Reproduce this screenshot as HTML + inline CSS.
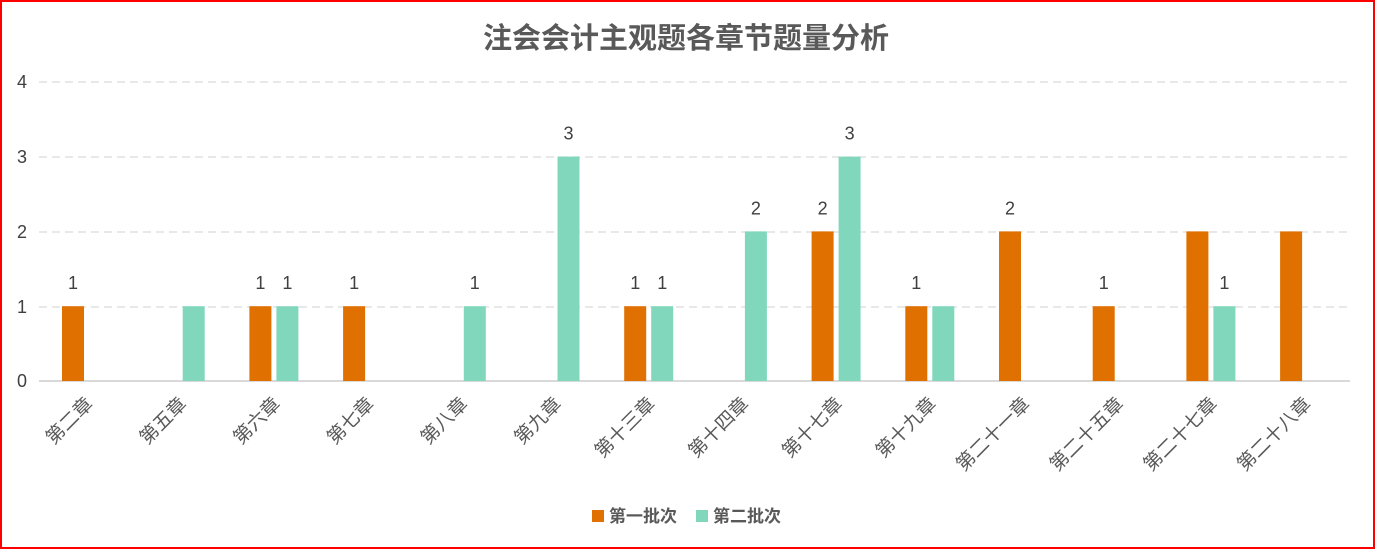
<!DOCTYPE html>
<html><head><meta charset="utf-8"><style>
html,body{margin:0;padding:0;background:#fff}
svg{display:block}
text{font-family:"Liberation Sans","Noto Sans CJK SC",sans-serif}
</style></head><body>
<svg width="1375" height="549" viewBox="0 0 1375 549" xmlns="http://www.w3.org/2000/svg">
<rect x="1" y="1" width="1373" height="547" fill="#fff" stroke="#ff0000" stroke-width="2"/>
<text x="686" y="48" text-anchor="middle" font-size="29" font-weight="bold" fill="#595959">注会会计主观题各章节题量分析</text>
<g stroke="#d9d9d9" stroke-width="1.3" stroke-dasharray="8,5">
<line x1="39" y1="82" x2="1350" y2="82"/>
<line x1="39" y1="157" x2="1350" y2="157"/>
<line x1="39" y1="232" x2="1350" y2="232"/>
<line x1="39" y1="307" x2="1350" y2="307"/>
</g>
<line x1="39" y1="381" x2="1350" y2="381" stroke="#d9d9d9" stroke-width="2"/>
<g font-size="18" fill="#404040" text-anchor="middle">
<text x="22" y="88">4</text><text x="22" y="163">3</text><text x="22" y="238">2</text><text x="22" y="313">1</text><text x="22" y="387">0</text>
</g>
<g id="bars"></g>
<g id="vals" font-size="18" fill="#404040" text-anchor="middle"></g>
<g id="cats" font-size="19" fill="#595959"></g>
<rect x="592" y="510" width="12" height="12" fill="#e07000"/>
<text x="609" y="522" font-size="17" font-weight="bold" fill="#595959">第一批次</text>
<rect x="696" y="510" width="12" height="12" fill="#80d7bc"/>
<text x="713" y="522" font-size="17" font-weight="bold" fill="#595959">第二批次</text>
</svg>
<script>
var ns="http://www.w3.org/2000/svg";
var d=[["第二章",1,0,1,0],["第五章",0,1,0,0],["第六章",1,1,1,1],["第七章",1,0,1,0],["第八章",0,1,0,1],["第九章",0,3,0,1],["第十三章",1,1,1,1],["第十四章",0,2,0,1],["第十七章",2,3,1,1],["第十九章",1,1,1,0],["第二十一章",2,0,1,0],["第二十五章",1,0,1,0],["第二十七章",2,1,0,1],["第二十八章",2,0,0,0]];
function el(t,a,p,txt){var e=document.createElementNS(ns,t);for(var k in a)e.setAttribute(k,a[k]);if(txt)e.textContent=txt;document.getElementById(p).appendChild(e);}
d.forEach(function(r,i){
 var c=86+i*93.7;
 if(r[1]){var h=r[1]*74.8;el("rect",{x:c-24,y:381-h,width:22,height:h,fill:"#e07000"},"bars");if(r[3])el("text",{x:c-13,y:381-h-17},"vals",r[1]);}
 if(r[2]){var h2=r[2]*74.8;el("rect",{x:c+3,y:381-h2,width:22,height:h2,fill:"#80d7bc"},"bars");if(r[4])el("text",{x:c+14,y:381-h2-17},"vals",r[2]);}
 el("text",{x:0,y:0,"text-anchor":"end",transform:"translate("+(c+8)+",405) rotate(-45)"},"cats",r[0]);
});
</script>
</body></html>
